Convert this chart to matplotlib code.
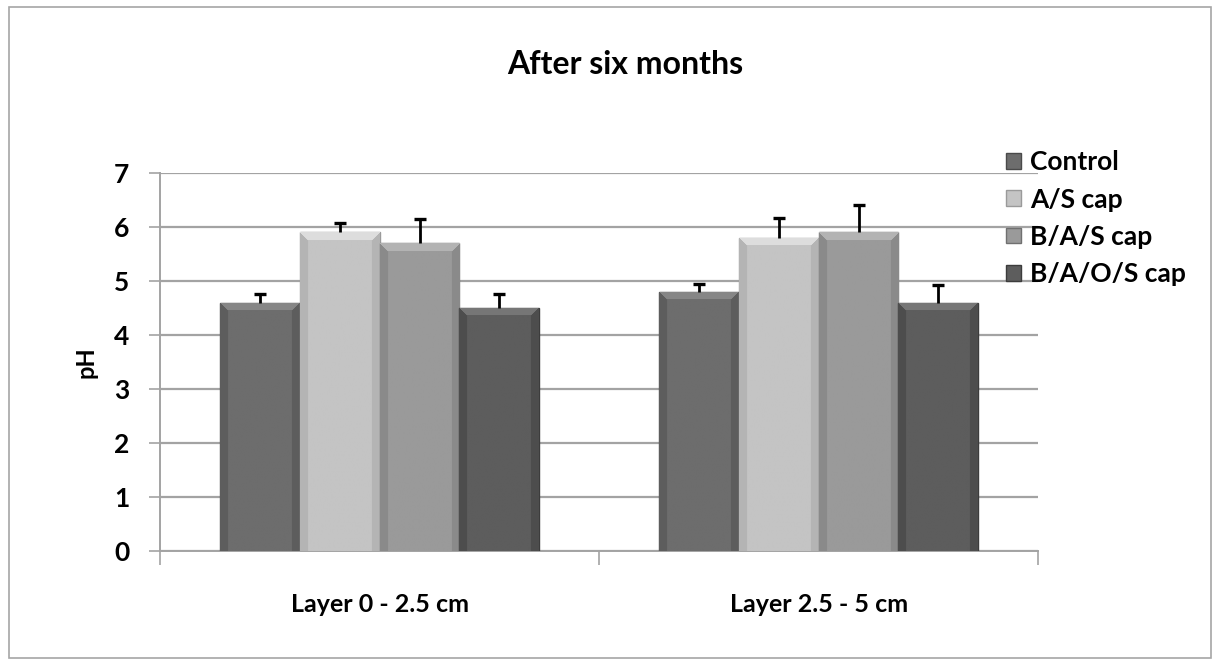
import matplotlib.pyplot as plt
import matplotlib.patches as mpatches
import matplotlib.colors as mcolors
import numpy as np

# Data
layers = ["Layer 0 - 2.5 cm", "Layer 2.5 - 5 cm"]
series = ["Control", "A/S cap", "B/A/S cap", "B/A/O/S cap"]
control = [4.6, 4.8]
as_cap = [5.9, 5.8]
bas_cap = [5.7, 5.9]
baos_cap = [4.5, 4.6]
control_err = [0.15, 0.15]
as_err = [0.17, 0.37]
bas_err = [0.45, 0.5]
baos_err = [0.26, 0.32]
yticks = [0, 1, 2, 3, 4, 5, 6, 7]

values = [control, as_cap, bas_cap, baos_cap]
errors = [control_err, as_err, bas_err, baos_err]
colors = ["#6d6d6d", "#c4c4c4", "#9a9a9a", "#5d5d5d"]
edges = ["#4a4a4a", "#9a9a9a", "#707070", "#3c3c3c"]

plt.rcParams["font.family"] = ["Lato", "DejaVu Sans"]
plt.rcParams["font.weight"] = "bold"


def bevel(ax, patch, color, bw=8):
    # excel-like bevel: light top facet, slightly darker sides
    x0, y0 = patch.get_x(), patch.get_y()
    w, h = patch.get_width(), patch.get_height()
    p0 = ax.transData.transform((x0, y0))
    p1 = ax.transData.transform((x0 + w, y0 + h))
    W = max(int(abs(p1[0] - p0[0])), 2)
    H = max(int(abs(p1[1] - p0[1])), 2)
    base = np.array(mcolors.to_rgb(color))
    cols = np.arange(W)[None, :]
    rows = np.arange(H)[:, None]
    dl = np.broadcast_to(cols, (H, W))
    dr = np.broadcast_to(W - 1 - cols, (H, W))
    dt = np.broadcast_to(rows, (H, W))
    shade = np.zeros((H, W))
    side = np.minimum(dl, dr)
    shade[side < bw] = -0.06
    top = (dt < bw) & (dt <= side)
    shade[top] = 0.10
    arr = np.clip(base[None, None, :] + shade[:, :, None], 0, 1)
    im = ax.imshow(arr, extent=(x0, x0 + w, y0, y0 + h), aspect="auto",
                   interpolation="bilinear", zorder=3, origin="upper")
    im.set_clip_path(patch)


fig = plt.figure(figsize=(12.17, 6.66), dpi=100)
ax = fig.add_axes([0.1315, 0.1727, 0.7215, 0.5676])
ax.set_xlim(-0.5, 1.5)
ax.set_ylim(0, 7)

# outer chart frame
fig.patches.append(mpatches.Rectangle((0.007, 0.012), 0.988, 0.978, transform=fig.transFigure,
                                      fill=False, edgecolor="#a6a6a6", linewidth=1.2))

x = np.arange(len(layers))
width = 0.182
for i, (vals, errs) in enumerate(zip(values, errors)):
    pos = x + (i - 1.5) * width
    bars = ax.bar(pos, vals, width, color=colors[i], edgecolor=edges[i], linewidth=1.0,
                  label=series[i], zorder=3)
    for b in bars:
        bevel(ax, b, colors[i])
    eb = ax.errorbar(pos, vals, yerr=[np.zeros(len(errs)), errs], fmt="none", ecolor="black",
                     elinewidth=2.0, capsize=4.5, capthick=2.4, zorder=4)
    # only the upper cap, like the original
    eb[1][0].set_visible(False)

ax.set_xlim(-0.5, 1.5)
ax.set_ylim(0, 7)
ax.set_yticks(yticks)
ax.set_yticklabels([str(t) for t in yticks], fontsize=19, fontweight="bold")
ax.yaxis.grid(True, color="#a3a3a3", linewidth=1.6, zorder=0)
ax.set_axisbelow(True)

ax.set_xticks([-0.5, 0.5, 1.5])
ax.set_xticklabels([])
ax.set_xticks(x, minor=True)
ax.set_xticklabels(layers, minor=True, fontsize=18, fontweight="bold")
ax.tick_params(axis="x", which="major", length=10, width=1.2, color="#a3a3a3", direction="out")
ax.tick_params(axis="x", which="minor", length=0, pad=30)
ax.tick_params(axis="y", length=8, width=1.2, color="#a3a3a3", pad=14)

for side in ["top", "right"]:
    ax.spines[side].set_visible(False)
for side in ["left", "bottom"]:
    ax.spines[side].set_color("#a3a3a3")
    ax.spines[side].set_linewidth(1.4)

ax.set_ylabel("pH", fontsize=17, fontweight="bold", labelpad=12)

fig.text(0.514, 0.903, "After six months", ha="center", va="center", fontsize=23, fontweight="bold")

ax.legend(loc="upper left", bbox_to_anchor=(0.818, 0.79), bbox_transform=fig.transFigure,
          frameon=False, handlelength=0.55, handleheight=0.55, handletextpad=0.35,
          labelspacing=0.5, borderaxespad=0, prop={"weight": "bold", "size": 19})

fig.savefig("out.png", dpi=100)
